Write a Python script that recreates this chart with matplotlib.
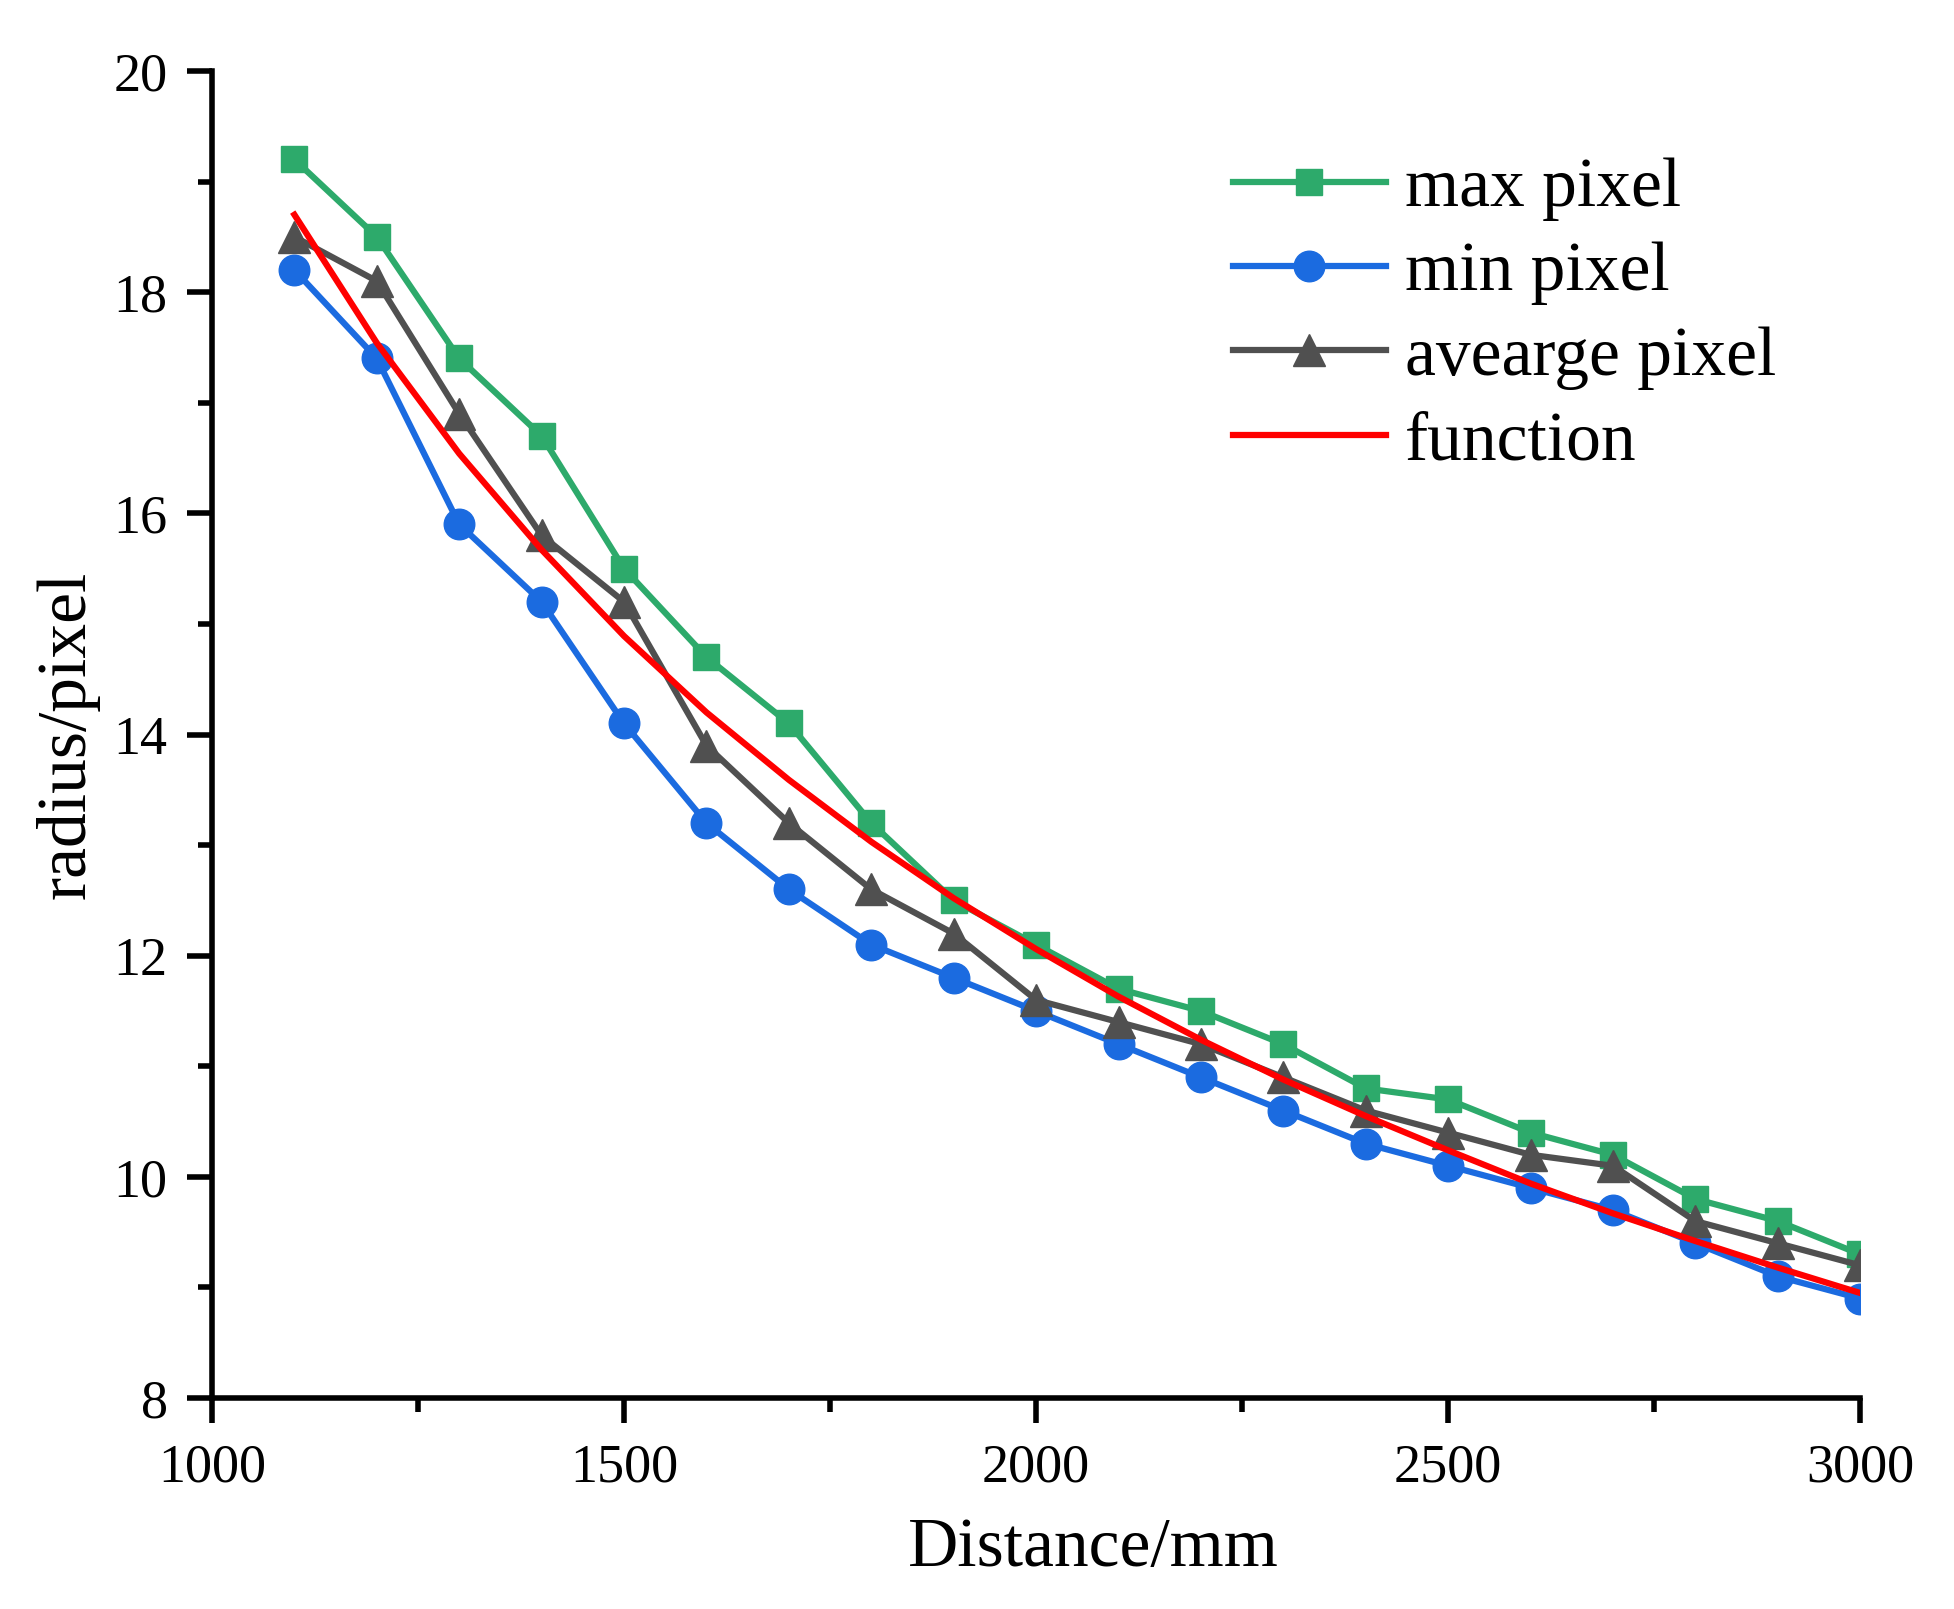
import numpy as np
import matplotlib
matplotlib.use('Agg')
import matplotlib.pyplot as plt
from matplotlib.ticker import MultipleLocator

plt.rcParams['font.family'] = ['Liberation Serif', 'DejaVu Serif']

# distances (mm)
distance = [1100, 1200, 1300, 1400, 1500, 1600, 1700, 1800, 1900, 2000,
            2100, 2200, 2300, 2400, 2500, 2600, 2700, 2800, 2900, 3000]

# radius values
max_pixel = [19.2, 18.5, 17.4, 16.7, 15.5, 14.7, 14.1, 13.2, 12.5, 12.1,
             11.7, 11.5, 11.2, 10.8, 10.7, 10.4, 10.2, 9.8, 9.6, 9.3]
min_pixel = [18.2, 17.4, 15.9, 15.2, 14.1, 13.2, 12.6, 12.1, 11.8, 11.5,
             11.2, 10.9, 10.6, 10.3, 10.1, 9.9, 9.7, 9.4, 9.1, 8.9]
avg_pixel = [18.5, 18.1, 16.9, 15.8, 15.2, 13.9, 13.2, 12.6, 12.2, 11.6,
             11.4, 11.2, 10.9, 10.6, 10.4, 10.2, 10.1, 9.6, 9.4, 9.2]
# red fitted curve, read at every 100 mm
func_pixel = [18.70, 17.54, 16.54, 15.67, 14.89, 14.20, 13.59, 13.03, 12.52, 12.06,
              11.63, 11.24, 10.88, 10.55, 10.24, 9.94, 9.67, 9.42, 9.18, 8.95]

fig = plt.figure(figsize=(19.54, 16.09), dpi=100)
ax = fig.add_axes([0.1085, 0.1311, 0.8435, 0.8248])

ax.plot(distance, max_pixel, color='#2DAA6B', lw=4.5, marker='s', ms=19,
        label='max pixel')
ax.plot(distance, min_pixel, color='#1B6BE0', lw=4.5, marker='o', ms=22,
        label='min pixel')
ax.plot(distance, avg_pixel, color='#505050', lw=4.5, marker='^', ms=23,
        label='avearge pixel')
ax.plot(distance, func_pixel, color='#FF0000', lw=4.5, label='function')

ax.set_xlim(1000, 3000)
ax.set_ylim(8, 20)
ax.xaxis.set_major_locator(MultipleLocator(500))
ax.xaxis.set_minor_locator(MultipleLocator(250))
ax.yaxis.set_major_locator(MultipleLocator(2))
ax.yaxis.set_minor_locator(MultipleLocator(1))

for s in ['top', 'right']:
    ax.spines[s].set_visible(False)
for s in ['left', 'bottom']:
    ax.spines[s].set_linewidth(4)

ax.tick_params(which='major', direction='out', length=18, width=4,
               labelsize=39, pad=14)
ax.tick_params(which='minor', direction='out', length=10, width=4)

ax.set_xlabel('Distance/mm', fontsize=50)
ax.set_ylabel('radius/pixel', fontsize=50)
ax.xaxis.set_label_coords(0.535, -0.09)
ax.yaxis.set_label_coords(-0.068, 0.5)

ax.legend(loc='upper left', bbox_to_anchor=(0.6195, 0.935), frameon=False,
          fontsize=50, handlelength=2.2, handletextpad=0.28,
          labelspacing=0.3, borderpad=0, borderaxespad=0)

fig.savefig('out.png', dpi=100)
